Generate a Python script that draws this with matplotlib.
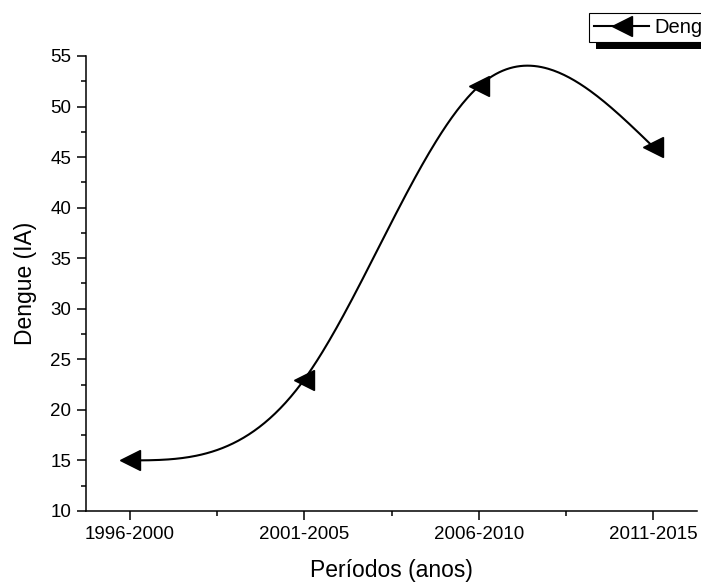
import numpy as np
import matplotlib
matplotlib.use('Agg')
import matplotlib.pyplot as plt
from matplotlib.patches import Rectangle
from matplotlib.ticker import MultipleLocator, FixedLocator

plt.rcParams['font.family'] = ['Liberation Sans', 'DejaVu Sans']

periodos = ['1996-2000', '2001-2005', '2006-2010', '2011-2015']
dengue = [15, 23, 52, 46]


def natural_spline(x, y, n=300):
    """Spline cúbica natural (como o Origin desenha a linha)"""
    x = np.asarray(x, float)
    y = np.asarray(y, float)
    k = len(x)
    h = np.diff(x)
    A = np.zeros((k, k))
    b = np.zeros(k)
    A[0, 0] = A[-1, -1] = 1
    for i in range(1, k - 1):
        A[i, i - 1] = h[i - 1]
        A[i, i] = 2 * (h[i - 1] + h[i])
        A[i, i + 1] = h[i]
        b[i] = 6 * ((y[i + 1] - y[i]) / h[i] - (y[i] - y[i - 1]) / h[i - 1])
    M = np.linalg.solve(A, b)
    xs = np.linspace(x[0], x[-1], n)
    ys = np.empty_like(xs)
    for j, xv in enumerate(xs):
        i = min(np.searchsorted(x, xv, side='right') - 1, k - 2)
        t0 = x[i + 1] - xv
        t1 = xv - x[i]
        ys[j] = (M[i] * t0 ** 3 + M[i + 1] * t1 ** 3) / (6 * h[i]) \
            + (y[i] / h[i] - M[i] * h[i] / 6) * t0 \
            + (y[i + 1] / h[i] - M[i + 1] * h[i] / 6) * t1
    return xs, ys


fig = plt.figure(figsize=(7.01, 5.83), dpi=100)
ax = fig.add_axes([0.1227, 0.1235, 0.8716, 0.7805])
ax.patch.set_alpha(0)

xpos = np.arange(1, len(periodos) + 1)
xs, ys = natural_spline(xpos, dengue)
ax.plot(xs, ys, color='black', linewidth=1.5, zorder=2)
ax.plot(xpos, dengue, linestyle='none', marker='<', markersize=14.5,
        color='black', zorder=3)

# handle só para a legenda
leg_line, = ax.plot([], [], color='black', linewidth=1.5, marker='<',
                    markersize=14, label='Dengue')

ax.set_xlim(0.75, 4.25)
ax.set_ylim(10, 55)
ax.set_xticks(xpos)
ax.set_xticklabels(periodos)
ax.xaxis.set_minor_locator(FixedLocator([1.5, 2.5, 3.5]))
ax.yaxis.set_major_locator(MultipleLocator(5))
ax.yaxis.set_minor_locator(MultipleLocator(2.5))

for s in ['top', 'right']:
    ax.spines[s].set_visible(False)
for s in ['left', 'bottom']:
    ax.spines[s].set_linewidth(1.1)

ax.tick_params(which='major', direction='out', length=6.5, width=1.1,
               labelsize=13.5, pad=4)
ax.tick_params(which='minor', direction='out', length=3.5, width=1.1)

ax.set_xlabel('Períodos (anos)', fontsize=16.5, labelpad=12)
ax.set_ylabel('Dengue (IA)', fontsize=16.5, labelpad=10)

leg = ax.legend(handles=[leg_line], loc='upper left',
                bbox_to_anchor=(0.840, 0.978), bbox_transform=fig.transFigure,
                borderaxespad=0, fontsize=14.5, frameon=True, fancybox=False,
                framealpha=1, edgecolor='black', borderpad=0.25,
                handlelength=2.75, handletextpad=0.25)
leg.get_frame().set_linewidth(0.8)
leg.set_zorder(10)

# sombra da legenda (estilo Origin), desenhada por baixo dos eixos
fig.canvas.draw()
bb = leg.get_window_extent().transformed(fig.transFigure.inverted())
W, H = fig.get_size_inches() * fig.dpi
dx, dy = 7 / W, 7 / H
fig.patches.append(Rectangle((bb.x0 + dx, bb.y0 - dy), bb.width, bb.height,
                             transform=fig.transFigure, facecolor='black',
                             edgecolor='none', zorder=-1))

fig.savefig('out.png', dpi=100)
